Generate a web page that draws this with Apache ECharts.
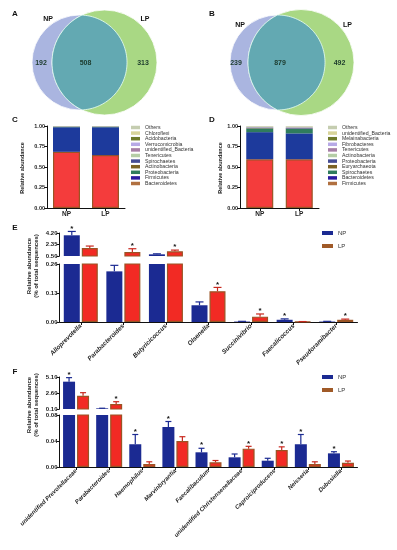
<!DOCTYPE html>
<html><head><meta charset="utf-8">
<script src="https://cdn.jsdelivr.net/npm/echarts/dist/echarts.min.js"></script>
<style>html,body{margin:0;padding:0;background:#fff}#c{width:397px;height:550px}</style>
</head><body><div id="c"></div>
<script>
// ---------- DATA ----------
const vennSets = ['NP', 'LP'];
const vennACounts = [192, 508, 313];   // NP only, shared, LP only
const vennBCounts = [239, 879, 492];

const groups = ['NP', 'LP'];
// Panel C (bottom -> top of stack)
const cPhyla = ['Bacteroidetes','Firmicutes','Proteobacteria','Actinobacteria','Spirochaetes','Tenericutes','unidentified_Bacteria','Verrucomicrobia','Acidobacteria','Chloroflexi','Others'];
const cNP = [0.685, 0.300, 0.006, 0.002, 0.001, 0.001, 0.001, 0.001, 0.0005, 0.0005, 0.002];
const cLP = [0.645, 0.340, 0.006, 0.002, 0.001, 0.001, 0.001, 0.001, 0.0005, 0.0005, 0.002];
// Panel D (bottom -> top of stack)
const dPhyla = ['Firmicutes','Bacteroidetes','Spirochaetes','Euryarchaeota','Proteobacteria','Actinobacteria','Tenericutes','Fibrobacteres','Melainabacteria','unidentified_Bacteria','Others'];
const dNP = [0.595, 0.330, 0.045, 0.004, 0.006, 0.003, 0.004, 0.002, 0.002, 0.003, 0.006];
const dLP = [0.595, 0.315, 0.055, 0.004, 0.008, 0.004, 0.004, 0.002, 0.002, 0.004, 0.007];
const stackTicks = [0, 0.25, 0.5, 0.75, 1.0];

// Panel E
const eCats = ['Alloprevotella','Parabacteroides','Butyricicoccus','Olsenella','Succinivibrio','Faecalicoccus','Pseudoramibacter'];
const eNP = [3.83, 0.227, 0.77, 0.075, 0.002, 0.010, 0.002];
const eNPerr = [4.45, 0.254, 0.85, 0.090, 0.003, 0.014, 0.003];
const eLP = [1.79, 1.14, 1.25, 0.138, 0.024, 0.001, 0.010];
const eLPerr = [2.10, 1.67, 1.45, 0.155, 0.036, 0.002, 0.013];
const eNPstar = [1,0,0,0,0,1,0];
const eLPstar = [0,1,1,1,1,0,1];
const eTopTicks = [0.50, 2.35, 4.20];
const eBotTicks = [0.00, 0.13, 0.26];

// Panel F
const fCats = ['unidentified Prevotellaceae','Parabacteroides','Haemophilus','Marvinbryantia','Faecalibaculum','unidentified Christensenellaceae','Caproiciproducens','Neisseria','Dubosiella'];
const fNP = [4.37, 0.20, 0.035, 0.0615, 0.0226, 0.0149, 0.0097, 0.035, 0.021];
const fNPerr = [5.00, 0.22, 0.050, 0.070, 0.0288, 0.020, 0.0134, 0.050, 0.0235];
const fLP = [2.18, 0.88, 0.0046, 0.040, 0.0072, 0.0282, 0.026, 0.0046, 0.0066];
const fLPerr = [2.65, 1.24, 0.008, 0.0466, 0.010, 0.0318, 0.031, 0.008, 0.0092];
const fNPstar = [1,0,1,1,1,0,0,1,1];
const fLPstar = [0,1,0,0,0,1,1,0,0];
const fTopTicks = [0.10, 2.60, 5.10];
const fBotTicks = [0.00, 0.04, 0.08];

// ---------- STYLE ----------
const FONT = 'Liberation Sans';
const legendPalette = ['#b07040','#2a1aa0','#2f7c5d','#7b6225','#454c94','#b5cda6','#a67ea6','#b7a9e6','#6e7a2a','#d8d49a','#c5cdb0'];
const barPalette = ['#f43c3c','#1d3a9c','#2f7c5d','#7b6225','#454c94','#b5cda6','#a67ea6','#b7a9e6','#6e7a2a','#d8d49a','#c5cdb0'];
const NPcol = '#1b2a92', LPcol = '#f22a24', LPborder = '#9a5424', LPleg = '#a05a28';

const chart = echarts.init(document.getElementById('c'), null, {renderer: 'canvas'});

const grids = [
  {left: 47, top: 126, width: 78, height: 82},
  {left: 240, top: 126, width: 79, height: 82},
  {left: 59.5, top: 233, width: 298, height: 23},
  {left: 59.5, top: 264, width: 298, height: 58},
  {left: 59.5, top: 377, width: 298, height: 32},
  {left: 59.5, top: 415, width: 298, height: 52}
];

const axisLine = {show: true, lineStyle: {color: '#111', width: 1}};
const axisTick = {show: true, length: 3, lineStyle: {color: '#111', width: 1}};
function yAx(gi, min, max, ticks, fs) {
  const interval = +(ticks[1] - ticks[0]).toFixed(4);
  return {type: 'value', gridIndex: gi, min: min, max: max, interval: interval,
    axisLine: axisLine, axisTick: axisTick, splitLine: {show: false},
    axisLabel: {fontFamily: FONT, fontSize: fs, fontWeight: 'bold', color: '#222', margin: 2,
      formatter: v => v.toFixed(2)}};
}
function xCat(gi, cats, show, rot, fs, italic) {
  return {type: 'category', gridIndex: gi, data: cats, show: show,
    axisLine: axisLine, axisTick: Object.assign({alignWithLabel: true}, axisTick),
    axisLabel: {fontFamily: FONT, fontSize: fs, fontWeight: 'bold', fontStyle: italic ? 'italic' : 'normal',
      color: '#222', rotate: rot, margin: 3, interval: 0}};
}

const xAxes = [
  xCat(0, groups, true, 0, 6.5, false),
  xCat(1, groups, true, 0, 6.5, false),
  xCat(2, eCats, false, 45, 6.3, true),
  xCat(3, eCats, true, 45, 6.3, true),
  xCat(4, fCats, false, 45, 6, true),
  xCat(5, fCats, true, 45, 6, true)
];
const yAxes = [
  yAx(0, 0, 1, stackTicks, 5.5),
  yAx(1, 0, 1, stackTicks, 5.5),
  yAx(2, eTopTicks[0], eTopTicks[2], eTopTicks, 6),
  yAx(3, eBotTicks[0], eBotTicks[2], eBotTicks, 6),
  yAx(4, fTopTicks[0], fTopTicks[2], fTopTicks, 6),
  yAx(5, fBotTicks[0], fBotTicks[2], fBotTicks, 6)
];

const series = [];
cPhyla.forEach((p, i) => {
  series.push({type: 'bar', name: p, stack: 'c', xAxisIndex: 0, yAxisIndex: 0, barWidth: 27,
    data: [cNP[i], cLP[i]],
    itemStyle: i === 0 ? {color: barPalette[0], borderColor: LPborder, borderWidth: 1.2} : {color: barPalette[i]}});
});
dPhyla.forEach((p, i) => {
  series.push({type: 'bar', name: p, stack: 'd', xAxisIndex: 1, yAxisIndex: 1, barWidth: 27,
    data: [dNP[i], dLP[i]],
    itemStyle: i === 0 ? {color: barPalette[0], borderColor: LPborder, borderWidth: 1.2} : {color: barPalette[i]}});
});

function barPair(ai, np, lp, bw, gap) {
  series.push({type: 'bar', name: 'NP', xAxisIndex: ai, yAxisIndex: ai, barWidth: bw, barGap: gap,
    clip: true, data: np, itemStyle: {color: NPcol}});
  series.push({type: 'bar', name: 'LP', xAxisIndex: ai, yAxisIndex: ai, barWidth: bw, barGap: gap,
    clip: true, data: lp, itemStyle: {color: LPcol, borderColor: LPborder, borderWidth: 1.2}});
}
function errBars(ai, vals, errs, stars, sign, bw, gapPx, color, lo, hi) {
  series.push({type: 'custom', xAxisIndex: ai, yAxisIndex: ai, clip: false, silent: true, z: 5,
    data: vals.map((v, i) => [i, v, errs[i], stars[i]]),
    encode: {x: 0, y: [1, 2]},
    renderItem: (params, api) => {
      const i = api.value(0), v = api.value(1), e = api.value(2), s = api.value(3);
      if (v < lo || v > hi) return;
      const p0 = api.coord([i, v]), p1 = api.coord([i, e]);
      const x = p0[0] + sign * (bw + gapPx) / 2;
      const cap = bw * 0.5;
      const ch = [
        {type: 'line', shape: {x1: x, y1: p0[1], x2: x, y2: p1[1]}, style: {stroke: color, lineWidth: 1.2}},
        {type: 'line', shape: {x1: x - cap / 2, y1: p1[1], x2: x + cap / 2, y2: p1[1]}, style: {stroke: color, lineWidth: 1.2}}
      ];
      if (s) ch.push({type: 'text', x: x, y: p1[1] + 1, style: {text: '*', fill: '#111', font: 'bold 8px ' + FONT, align: 'center', verticalAlign: 'bottom'}});
      return {type: 'group', children: ch};
    }});
}
const eBW = 16, eGap = 2, fBW = 12, fGap = 2;
barPair(2, eNP, eLP, eBW, (eGap / eBW * 100) + '%');
barPair(3, eNP, eLP, eBW, (eGap / eBW * 100) + '%');
barPair(4, fNP, fLP, fBW, (fGap / fBW * 100) + '%');
barPair(5, fNP, fLP, fBW, (fGap / fBW * 100) + '%');
errBars(2, eNP, eNPerr, eNPstar, -1, eBW, eGap, NPcol, eTopTicks[0], Infinity);
errBars(2, eLP, eLPerr, eLPstar, 1, eBW, eGap, '#c8281e', eTopTicks[0], Infinity);
errBars(3, eNP, eNPerr, eNPstar, -1, eBW, eGap, NPcol, -Infinity, eBotTicks[2]);
errBars(3, eLP, eLPerr, eLPstar, 1, eBW, eGap, '#c8281e', -Infinity, eBotTicks[2]);
errBars(4, fNP, fNPerr, fNPstar, -1, fBW, fGap, NPcol, fTopTicks[0], Infinity);
errBars(4, fLP, fLPerr, fLPstar, 1, fBW, fGap, '#c8281e', fTopTicks[0], Infinity);
errBars(5, fNP, fNPerr, fNPstar, -1, fBW, fGap, NPcol, -Infinity, fBotTicks[2]);
errBars(5, fLP, fLPerr, fLPstar, 1, fBW, fGap, '#c8281e', -Infinity, fBotTicks[2]);

function stackLegend(left, names) {
  const rev = names.slice().reverse();
  return {orient: 'vertical', left: left, top: 125, icon: 'rect', itemWidth: 9, itemHeight: 3.5, itemGap: 0.6,
    selectedMode: false, padding: 0,
    textStyle: {fontFamily: FONT, fontSize: 5.2, color: '#333', lineHeight: 5},
    data: rev.map((n) => ({name: n, itemStyle: {color: legendPalette[names.indexOf(n)], borderWidth: 0}}))};
}
function npLegend(top) {
  return {orient: 'vertical', left: 322, top: top, icon: 'rect', itemWidth: 11, itemHeight: 4, itemGap: 7,
    selectedMode: false, padding: 0,
    textStyle: {fontFamily: FONT, fontSize: 6, color: '#333'},
    data: [{name: 'NP', itemStyle: {color: NPcol, borderWidth: 0}}, {name: 'LP', itemStyle: {color: LPleg, borderWidth: 0}}]};
}

// Venn helpers: lens as a polygon traced along both circle arcs
function lensPoints(cx1, r1, cx2, r2, cy) {
  const d = cx2 - cx1;
  const a = (r1 * r1 - r2 * r2 + d * d) / (2 * d);
  const h = Math.sqrt(r1 * r1 - a * a);
  const t1 = Math.atan2(h, a);
  const t2 = Math.atan2(h, a - d);
  const pts = [];
  const N = 80;
  for (let k = 0; k <= N; k++) {
    const t = -t1 + (2 * t1) * k / N;
    pts.push([cx1 + r1 * Math.cos(t), cy + r1 * Math.sin(t)]);
  }
  for (let k = 0; k <= N; k++) {
    const t = t2 + (2 * Math.PI - 2 * t2) * k / N;
    pts.push([cx2 + r2 * Math.cos(t), cy + r2 * Math.sin(t)]);
  }
  return pts;
}
function venn(cx1, r1, cx2, r2, cy, counts, xs) {
  const els = [
    {type: 'circle', shape: {cx: cx1, cy: cy, r: r1}, style: {fill: '#aab5e0', stroke: '#ffffff', lineWidth: 0.8}},
    {type: 'circle', shape: {cx: cx2, cy: cy, r: r2}, style: {fill: '#a9d884', stroke: '#ffffff', lineWidth: 0.8}},
    {type: 'polygon', shape: {points: lensPoints(cx1, r1, cx2, r2, cy)}, style: {fill: '#63a9b2', stroke: '#eafff5', lineWidth: 0.8}}
  ];
  counts.forEach((c, i) => els.push({type: 'text', x: xs[i], y: cy + 1, style: {text: String(c), font: 'bold 7px ' + FONT, fill: '#1c3a2c', align: 'center', verticalAlign: 'middle'}}));
  return els;
}
function label(t, x, y, size) {
  return {type: 'text', x: x, y: y, style: {text: t, font: 'bold ' + (size || 8) + 'px ' + FONT, fill: '#111', align: 'center', verticalAlign: 'middle'}};
}
function vname(t, x, y, fs) {
  return {type: 'text', x: x, y: y, rotation: Math.PI / 2, style: {text: t, font: 'bold ' + fs + 'px ' + FONT, fill: '#222', align: 'center', verticalAlign: 'middle', lineHeight: fs + 1}};
}

const graphics = [].concat(
  venn(79.5, 47.5, 104.5, 52.5, 62.5, vennACounts, [41, 85.5, 143]),
  venn(277.5, 47.5, 301, 53, 62.5, vennBCounts, [236, 280, 339.5]),
  [
    label(vennSets[0], 48, 19.5, 7), label(vennSets[1], 145, 19.5, 7),
    label(vennSets[0], 240, 25, 7), label(vennSets[1], 347.5, 25, 7),
    label('A', 15, 13.5), label('B', 212, 13.5), label('C', 15, 120), label('D', 212, 120),
    label('E', 15, 228), label('F', 15, 372),
    vname('Relative abundance', 22, 168, 5.5),
    vname('Relative abundance', 220, 168, 5.5),
    vname('Relative abundance\n(% of total sequences)', 33, 266, 6),
    vname('Relative abundance\n(% of total sequences)', 33, 405, 6)
  ]
);

chart.setOption({
  animation: false,
  backgroundColor: '#ffffff',
  textStyle: {fontFamily: FONT},
  grid: grids,
  xAxis: xAxes,
  yAxis: yAxes,
  legend: [stackLegend(131, cPhyla), stackLegend(328, dPhyla), npLegend(230), npLegend(374)],
  series: series,
  graphic: graphics
});
</script></body></html>
